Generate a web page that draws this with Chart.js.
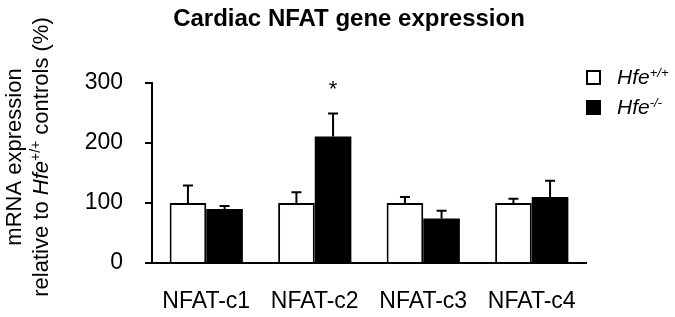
<!DOCTYPE html>
<html>
<head>
<meta charset="utf-8">
<script src="https://cdn.jsdelivr.net/npm/chart.js@4.4.1/dist/chart.umd.min.js"></script>
<style>
  html, body { margin: 0; padding: 0; background: #fff; }
  #wrap { width: 675px; height: 317px; }
</style>
</head>
<body>
<div id="wrap"><canvas id="chart" width="675" height="317"></canvas></div>
<script>
// Values (% of Hfe+/+ controls), SEM shown upward only
const categories = ['NFAT-c1', 'NFAT-c2', 'NFAT-c3', 'NFAT-c4'];
const wildtype = [100, 100, 100, 100];
const wildtypeErr = [29, 18, 10, 7];
const knockout = [90, 211, 74, 110];
const knockoutErr = [5, 38, 13, 27];
const significant = [false, true, false, false]; // asterisk over Hfe-/- bar
const yMax = 300;
const yStep = 100;

const FONT = "'Liberation Sans', Arial, sans-serif";

// draw a run of differently styled pieces of text one after another
function drawRich(ctx, parts, x, y, align) {
    let total = 0;
    for (let p of parts) {
        ctx.font = p.font;
        total += ctx.measureText(p.text).width;
    }
    let cx = align === 'center' ? x - total / 2 : x;
    for (let p of parts) {
        ctx.font = p.font;
        ctx.fillText(p.text, cx, y + (p.dy || 0));
        cx += ctx.measureText(p.text).width;
    }
}

// error bars, significance star, title, y title and legend
const decorations = {
    id: 'decorations',
    afterDatasetsDraw(chart) {
        const ctx = chart.ctx;
        const yScale = chart.scales.y;
        ctx.save();
        ctx.strokeStyle = '#000';
        ctx.fillStyle = '#000';
        ctx.lineWidth = 2;
        chart.data.datasets.forEach((ds, d) => {
            let meta = chart.getDatasetMeta(d);
            meta.data.forEach((bar, i) => {
                let base = yScale.getPixelForValue(ds.data[i]);
                let top = yScale.getPixelForValue(ds.data[i] + ds.errors[i]);
                ctx.beginPath();
                ctx.moveTo(bar.x, base);
                ctx.lineTo(bar.x, top);
                ctx.moveTo(bar.x - 5, top);
                ctx.lineTo(bar.x + 5, top);
                ctx.stroke();
                if (d === 1 && significant[i]) {
                    ctx.font = '22px ' + FONT;
                    ctx.textAlign = 'center';
                    ctx.textBaseline = 'alphabetic';
                    ctx.fillText('*', bar.x, top - 18);
                }
            });
        });
        ctx.restore();
    },
    afterDraw(chart) {
        const ctx = chart.ctx;
        ctx.save();
        ctx.fillStyle = '#000';
        ctx.textBaseline = 'alphabetic';

        // Title
        ctx.textAlign = 'center';
        ctx.font = 'bold 24px ' + FONT;
        ctx.fillText('Cardiac NFAT gene expression', 349, 26);

        // Y axis title (two lines, rotated)
        ctx.textAlign = 'left';
        const reg = '22px ' + FONT;
        ctx.save();
        ctx.translate(21, 157);
        ctx.rotate(-Math.PI / 2);
        drawRich(ctx, [{text: 'mRNA expression', font: reg}], 0, 0, 'center');
        ctx.restore();
        ctx.save();
        ctx.translate(48, 157);
        ctx.rotate(-Math.PI / 2);
        drawRich(ctx, [
            {text: 'relative to ', font: reg},
            {text: 'Hfe', font: 'italic 22px ' + FONT},
            {text: '+/+', font: '14px ' + FONT, dy: -8},
            {text: ' controls (%)', font: reg}
        ], 0, 0, 'center');
        ctx.restore();

        // Legend
        ctx.lineWidth = 2;
        ctx.strokeStyle = '#000';
        ctx.fillStyle = '#fff';
        ctx.fillRect(587, 71, 13, 13);
        ctx.strokeRect(587, 71, 13, 13);
        ctx.fillStyle = '#000';
        ctx.fillRect(586, 100, 15, 15);
        const it = 'italic 21px ' + FONT;
        const sup = 'italic 13px ' + FONT;
        drawRich(ctx, [{text: 'Hfe', font: it}, {text: '+/+', font: sup, dy: -7}], 617, 84, 'left');
        drawRich(ctx, [{text: 'Hfe', font: it}, {text: '-/-', font: sup, dy: -7}], 617, 114, 'left');
        ctx.restore();
    }
};

new Chart(document.getElementById('chart'), {
    type: 'bar',
    data: {
        labels: categories,
        datasets: [{
            label: 'Hfe+/+',
            data: wildtype,
            errors: wildtypeErr,
            backgroundColor: '#fff',
            borderColor: '#000',
            borderWidth: 2,
            borderSkipped: 'bottom'
        }, {
            label: 'Hfe-/-',
            data: knockout,
            errors: knockoutErr,
            backgroundColor: '#000',
            borderColor: '#000',
            borderWidth: 0
        }]
    },
    options: {
        responsive: false,
        animation: false,
        devicePixelRatio: 1,
        layout: {
            padding: {left: 0, right: 89, top: 83, bottom: 0}
        },
        datasets: {
            bar: {categoryPercentage: 0.675, barPercentage: 1.0}
        },
        plugins: {
            legend: {display: false},
            title: {display: false},
            tooltip: {enabled: false}
        },
        scales: {
            x: {
                grid: {display: false, drawTicks: false},
                border: {display: true, color: '#000', width: 2},
                ticks: {color: '#000', padding: 25, font: {family: FONT, size: 23}},
                afterFit: (scale) => { scale.height = 54; }
            },
            y: {
                min: 0,
                max: yMax,
                grid: {display: true, drawOnChartArea: false, drawTicks: true, tickLength: 7, color: '#000', lineWidth: 2},
                border: {display: true, color: '#000', width: 2},
                ticks: {stepSize: yStep, color: '#000', padding: 22, font: {family: FONT, size: 23}},
                afterFit: (scale) => { scale.width = 152; }
            }
        }
    },
    plugins: [decorations]
});
</script>
</body>
</html>
